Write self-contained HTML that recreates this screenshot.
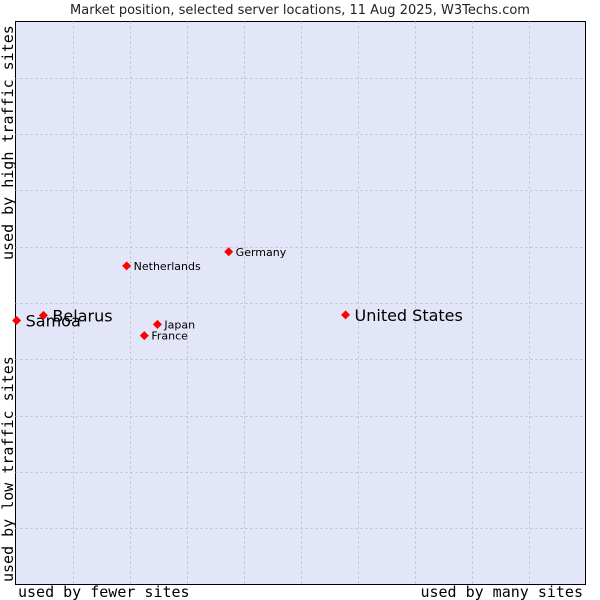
<!DOCTYPE html>
<html><head><meta charset="utf-8"><style>
body{margin:0;background:#fff;}
svg{display:block;}
</style></head><body>
<svg id="chart" width="600" height="600" xmlns="http://www.w3.org/2000/svg">
<text x="300" y="14" text-anchor="middle" font-family="DejaVu Sans, sans-serif" font-size="13" fill="#222">Market position, selected server locations, 11 Aug 2025, W3Techs.com</text>
<rect x="15.5" y="21.5" width="570" height="563" fill="#e3e5f8" stroke="#000" stroke-width="1"/>
<g id="grid"></g>
<g id="points"></g>
<text x="18" y="597" font-family="DejaVu Sans Mono, monospace" font-size="15" fill="#000">used by fewer sites</text>
<text x="583" y="597" text-anchor="end" font-family="DejaVu Sans Mono, monospace" font-size="15" fill="#000">used by many sites</text>
<text transform="translate(13,260) rotate(-90)" font-family="DejaVu Sans Mono, monospace" font-size="15" fill="#000">used by high traffic sites</text>
<text transform="translate(13,582) rotate(-90)" font-family="DejaVu Sans Mono, monospace" font-size="15" fill="#000">used by low traffic sites</text>
</svg>
<script>
const names = ["Samoa","Belarus","Netherlands","Germany","Japan","France","United States"];
const xValues = [0.02,0.49,1.95,3.74,2.49,2.26,5.79];
const yValues = [4.69,4.78,5.66,5.91,4.62,4.42,4.79];
const bigLabel = [true,true,false,false,false,false,true];
const X0=15.5,X1=585.5,Y0=584.5,Y1=21.5;
function sx(v){return X0+(X1-X0)*v/10;}
function sy(v){return Y0-(Y0-Y1)*v/10;}
const NS="http://www.w3.org/2000/svg";
const grid=document.getElementById('grid');
for(let i=1;i<10;i++){
  const lv=document.createElementNS(NS,'line');
  
  
  lv.setAttribute('x1',Math.round(sx(i))+0.5);lv.setAttribute('x2',Math.round(sx(i))+0.5);
  lv.setAttribute('y1',Y1);lv.setAttribute('y2',Y0);
  lv.setAttribute('stroke','#c0c0c0');lv.setAttribute('stroke-dasharray','2,3');
  grid.appendChild(lv);
  const lh=document.createElementNS(NS,'line');
  
  
  lh.setAttribute('y1',Math.round(sy(i))+0.5);lh.setAttribute('y2',Math.round(sy(i))+0.5);
  lh.setAttribute('x1',X0);lh.setAttribute('x2',X1);
  lh.setAttribute('stroke','#c0c0c0');lh.setAttribute('stroke-dasharray','2,3');
  grid.appendChild(lh);
}
const pts=document.getElementById('points');
names.forEach((n,i)=>{
  const x=sx(xValues[i]),y=sy(yValues[i]);
  const d=document.createElementNS(NS,'polygon');
  
  
  d.setAttribute('points',`${x},${y-4.5} ${x+4.5},${y} ${x},${y+4.5} ${x-4.5},${y}`);
  d.setAttribute('fill','#ff0000');
  pts.appendChild(d);
  const t=document.createElementNS(NS,'text');
  
  
  t.setAttribute('x',x+(bigLabel[i]?9:7));
  t.setAttribute('y',y+(bigLabel[i]?6:4));
  t.setAttribute('font-family','DejaVu Sans, sans-serif');
  t.setAttribute('font-size',bigLabel[i]?16:11);
  t.setAttribute('fill','#000');
  t.textContent=n;
  pts.appendChild(t);
});
</script>
</body></html>
